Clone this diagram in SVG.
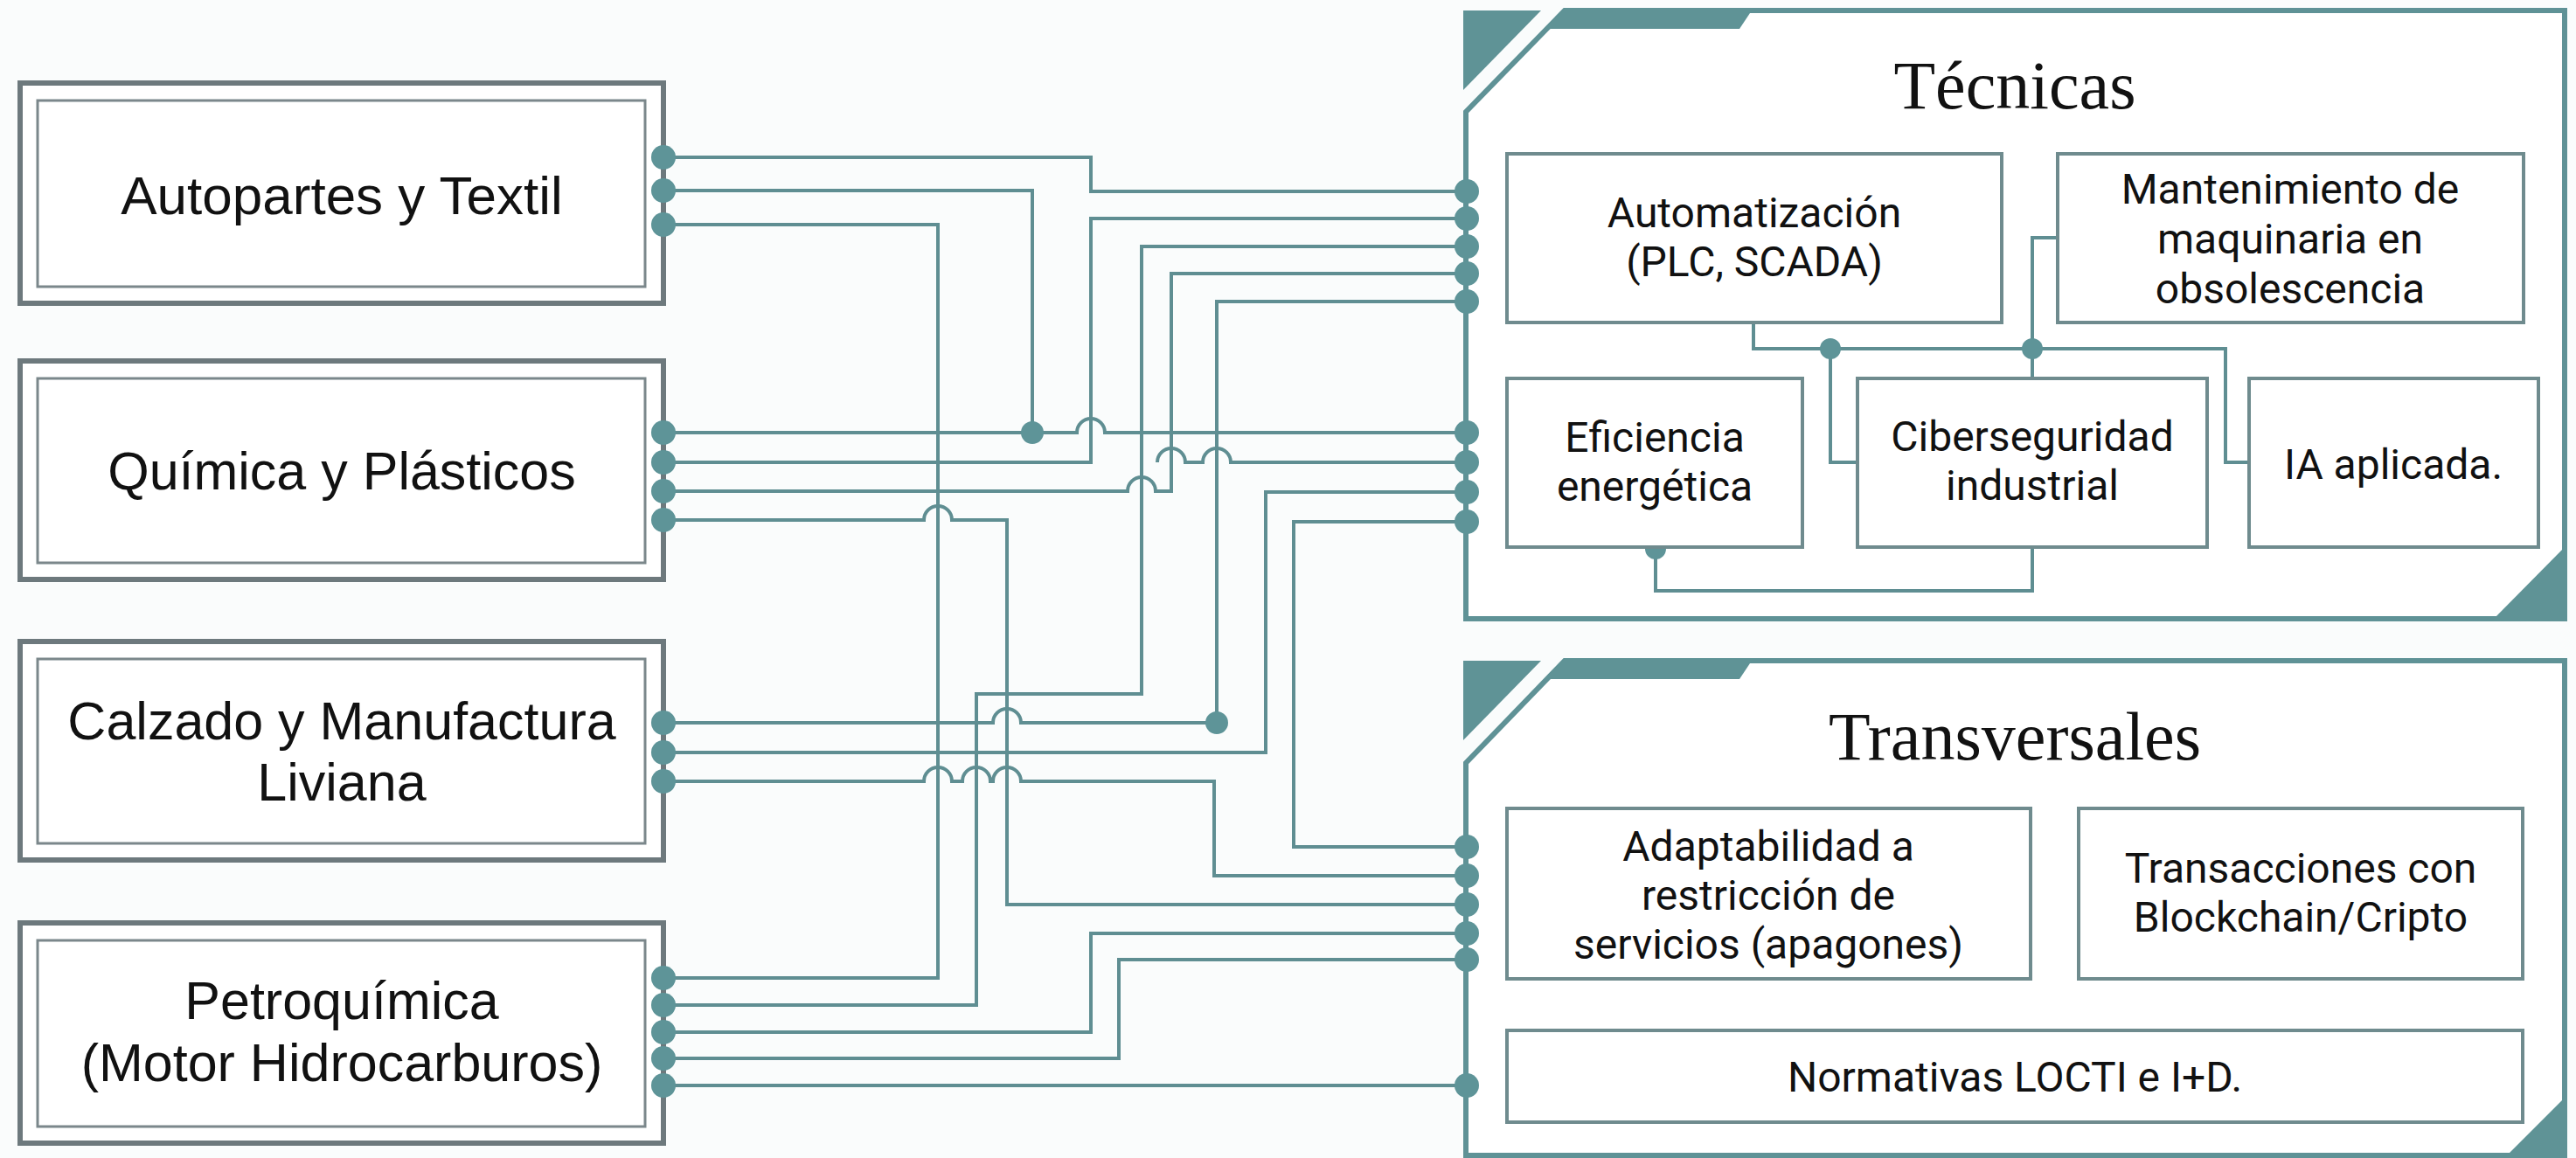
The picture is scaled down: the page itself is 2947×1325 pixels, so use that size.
<svg xmlns="http://www.w3.org/2000/svg" width="2947" height="1325" viewBox="0 0 2947 1325">
<style>
.bg{fill:#fafcfc}
.lbo{fill:#ffffff;stroke:#6d797d;stroke-width:6}
.lbi{fill:none;stroke:#7b878b;stroke-width:3}
.lt{font-family:"Liberation Sans",Arial,sans-serif;font-size:62px;fill:#111;text-anchor:middle}
.lt2{font-family:"Liberation Sans",Arial,sans-serif;font-size:61px;fill:#111;text-anchor:middle}
.pan{fill:#ffffff;stroke:#5f9296;stroke-width:6;stroke-linejoin:miter}
.dec{fill:#5f9396}
.ttl{font-family:"Liberation Serif","Times New Roman",serif;font-size:78px;fill:#111;text-anchor:middle}
.ib{fill:#ffffff;stroke:#6f8b8e;stroke-width:4}
.it{font-family:Roboto,"Liberation Sans",sans-serif;font-size:48px;fill:#111;text-anchor:middle}
.w{fill:none;stroke:#5f8e92;stroke-width:4;stroke-linejoin:miter}
.d{fill:#5e9498}
</style>
<rect class="bg" x="0" y="0" width="2947" height="1325"/>

<g id="autopartes">
<rect class="lbo" x="23" y="95" width="736" height="252"/>
<rect class="lbi" x="43" y="115" width="695" height="213"/>
<text class="lt" x="391" y="245">Autopartes y Textil</text>
</g>
<g id="quimica">
<rect class="lbo" x="23" y="413" width="736" height="250"/>
<rect class="lbi" x="43" y="433" width="695" height="211"/>
<text class="lt2" x="391" y="560">Química y Plásticos</text>
</g>
<g id="calzado">
<rect class="lbo" x="23" y="734" width="736" height="250"/>
<rect class="lbi" x="43" y="754" width="695" height="211"/>
<text class="lt2" x="391" y="846">Calzado y Manufactura</text>
<text class="lt2" x="391" y="916">Liviana</text>
</g>
<g id="petroquimica">
<rect class="lbo" x="23" y="1056" width="736" height="252"/>
<rect class="lbi" x="43" y="1076" width="695" height="213"/>
<text class="lt2" x="391" y="1166">Petroquímica</text>
<text class="lt2" x="391" y="1237">(Motor Hidrocarburos)</text>
</g>

<g id="tecnicas">
<path class="pan" d="M1677,708 V128 L1790,12 H2934 V708 Z"/>
<polygon class="dec" points="1790,9 2006,9 1990,33 1767,33"/>
<polygon class="dec" points="1674,12 1763,12 1674,103"/>
<polygon class="dec" points="2937,623 2937,711 2850,711"/>
<text class="ttl" x="2305" y="124">Técnicas</text>
</g>
<g id="transversales">
<path class="pan" d="M1677,1322 V873 L1790,756 H2934 V1322 Z"/>
<polygon class="dec" points="1790,753 2006,753 1990,777 1767,777"/>
<polygon class="dec" points="1674,756 1763,756 1674,847"/>
<polygon class="dec" points="2937,1253 2937,1325 2865,1325"/>
<text class="ttl" x="2305" y="869">Transversales</text>
</g>

<g id="tec-connectors">
<path class="w" d="M2006,369 V399 H2546 V529 H2573"/>
<path class="w" d="M2094,399 V529 H2125"/>
<path class="w" d="M2325,433 V272 H2354"/>
<path class="w" d="M1894,626 V676 H2325 V626"/>
<circle class="d" cx="2094" cy="399" r="12"/>
<circle class="d" cx="2325" cy="399" r="12"/>
<circle class="d" cx="1894" cy="628" r="12"/>
</g>

<g id="automatizacion">
<rect class="ib" x="1724" y="176" width="566" height="193"/>
<text class="it" x="2007" y="260">Automatización</text>
<text class="it" x="2007" y="316">(PLC, SCADA)</text>
</g>
<g id="mantenimiento">
<rect class="ib" x="2354" y="176" width="533" height="193"/>
<text class="it" x="2620" y="233">Mantenimiento de</text>
<text class="it" x="2620" y="290">maquinaria en</text>
<text class="it" x="2620" y="347">obsolescencia</text>
</g>
<g id="eficiencia">
<rect class="ib" x="1724" y="433" width="338" height="193"/>
<text class="it" x="1893" y="517">Eficiencia</text>
<text class="it" x="1893" y="573">energética</text>
</g>
<g id="ciberseguridad">
<rect class="ib" x="2125" y="433" width="400" height="193"/>
<text class="it" x="2325" y="516">Ciberseguridad</text>
<text class="it" x="2325" y="572">industrial</text>
</g>
<g id="ia">
<rect class="ib" x="2573" y="433" width="331" height="193"/>
<text class="it" x="2738" y="548">IA aplicada.</text>
</g>
<g id="adaptabilidad">
<rect class="ib" x="1724" y="925" width="599" height="195"/>
<text class="it" x="2023" y="985">Adaptabilidad a</text>
<text class="it" x="2023" y="1041">restricción de</text>
<text class="it" x="2023" y="1097">servicios (apagones)</text>
</g>
<g id="transacciones">
<rect class="ib" x="2378" y="925" width="508" height="195"/>
<text class="it" x="2632" y="1010">Transacciones con</text>
<text class="it" x="2632" y="1066">Blockchain/Cripto</text>
</g>
<g id="normativas">
<rect class="ib" x="1724" y="1179" width="1162" height="105"/>
<text class="it" x="2305" y="1249">Normativas LOCTI e I+D.</text>
</g>

<g id="connectors">
<path class="w" d="M759,180 H1248 V219 H1678"/>
<path class="w" d="M759,218 H1181 V495"/>
<path class="w" d="M759,495 H1232 A16,16 0 0 1 1264,495 H1678"/>
<path class="w" d="M759,257 H1073 V1119 H759"/>
<path class="w" d="M759,529 H1248 V250 H1678"/>
<path class="w" d="M1324,529 A16,16 0 0 1 1356,529 H1376 A16,16 0 0 1 1408,529 H1678"/>
<path class="w" d="M759,562 H1290 A16,16 0 0 1 1322,562 H1340 V313 H1678"/>
<path class="w" d="M759,595 H1057 A16,16 0 0 1 1089,595 H1152 V1035 H1678"/>
<path class="w" d="M759,1150 H1117 V794 H1306 V282 H1678"/>
<path class="w" d="M759,827 H1136 A16,16 0 0 1 1168,827 H1392 V345 H1678"/>
<path class="w" d="M759,861 H1448 V563 H1678"/>
<path class="w" d="M759,894 H1057 A16,16 0 0 1 1089,894 H1101 A16,16 0 0 1 1133,894 H1136 A16,16 0 0 1 1168,894 H1389 V1002 H1678"/>
<path class="w" d="M1678,597 H1480 V969 H1678"/>
<path class="w" d="M759,1181 H1248 V1068 H1678"/>
<path class="w" d="M759,1211 H1280 V1098 H1678"/>
<path class="w" d="M759,1242 H1678"/>
<circle class="d" cx="1181" cy="495" r="13"/>
<circle class="d" cx="1392" cy="827" r="13"/>
<g class="d">
<circle cx="759" cy="180" r="14"/><circle cx="759" cy="218" r="14"/><circle cx="759" cy="257" r="14"/>
<circle cx="759" cy="495" r="14"/><circle cx="759" cy="529" r="14"/><circle cx="759" cy="562" r="14"/><circle cx="759" cy="595" r="14"/>
<circle cx="759" cy="827" r="14"/><circle cx="759" cy="861" r="14"/><circle cx="759" cy="894" r="14"/>
<circle cx="759" cy="1119" r="14"/><circle cx="759" cy="1150" r="14"/><circle cx="759" cy="1181" r="14"/><circle cx="759" cy="1211" r="14"/><circle cx="759" cy="1242" r="14"/>
<circle cx="1678" cy="219" r="14"/><circle cx="1678" cy="250" r="14"/><circle cx="1678" cy="282" r="14"/><circle cx="1678" cy="313" r="14"/><circle cx="1678" cy="345" r="14"/>
<circle cx="1678" cy="495" r="14"/><circle cx="1678" cy="529" r="14"/><circle cx="1678" cy="563" r="14"/><circle cx="1678" cy="597" r="14"/>
<circle cx="1678" cy="969" r="14"/><circle cx="1678" cy="1002" r="14"/><circle cx="1678" cy="1035" r="14"/><circle cx="1678" cy="1068" r="14"/><circle cx="1678" cy="1098" r="14"/>
<circle cx="1678" cy="1242" r="14"/>
</g>
</g>
</svg>
